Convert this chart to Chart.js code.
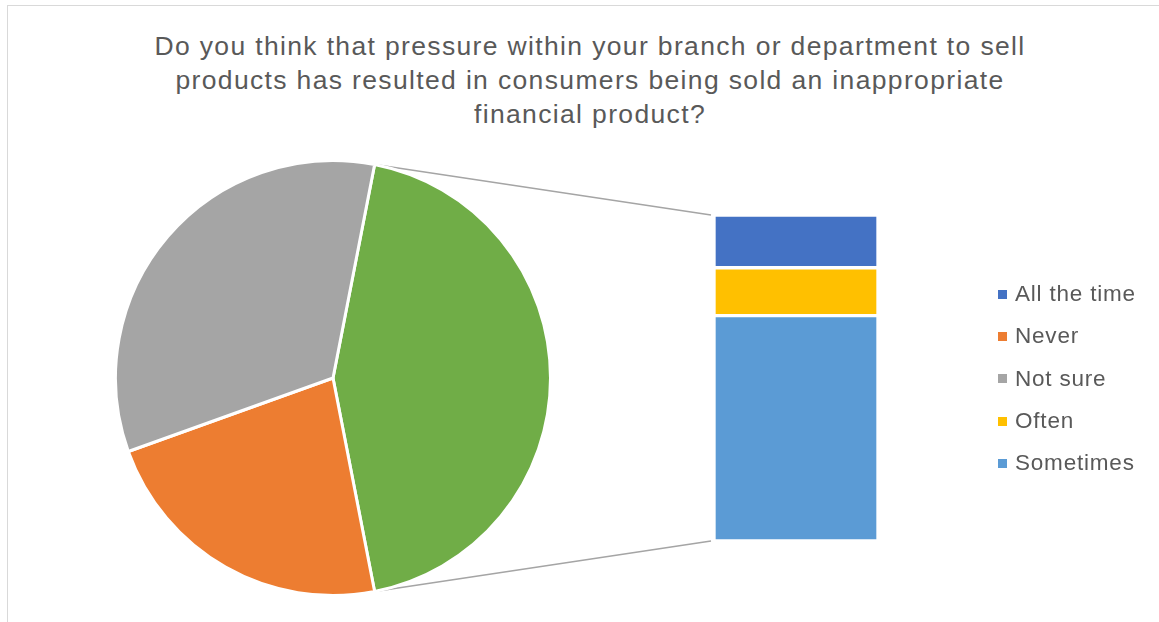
<!DOCTYPE html>
<html lang="en">
<head>
  <meta charset="UTF-8" />
  <title>Sales pressure survey</title>
  <script src="https://cdn.jsdelivr.net/npm/chart.js"></script>
  <style>
    body {
      margin: 0; padding: 0; background: #fff;
      font-family: "Liberation Sans", Arial, sans-serif;
      color: #595959;
      overflow: hidden;
    }
    .frame {
      position: relative;
      width: 1159px; height: 622px;
      overflow: hidden;
    }
    .frame-border {
      position: absolute;
      left: 7px; top: 5px;
      width: 1200px; height: 700px;
      border: 1px solid #d9d9d9;
    }
    .title {
      position: absolute;
      left: 4px; top: 29px;
      width: 1172px;
      text-align: center;
      font-size: 26.5px;
      letter-spacing: 1.35px;
      line-height: 34px;
    }
    #mainChart { position: absolute; left: 0; top: 0; }
    #pieChart { position: absolute; left: 114px; top: 159px; }
    .legend {
      position: absolute;
      left: 998px; top: 273px;
      list-style: none; margin: 0; padding: 0;
      font-size: 22.5px;
      letter-spacing: 0.8px;
    }
    .legend li {
      height: 42.3px; line-height: 32px;
      display: flex; align-items: center;
    }
    .legend .box {
      display: inline-block;
      width: 9px; height: 9px;
      margin-right: 8px;
    }
  </style>
</head>
<body>
<div class="frame">
  <div class="frame-border"></div>
  <div class="title">Do you think that pressure within your branch or department to sell<br>products has resulted in consumers being sold an inappropriate<br>financial product?</div>
  <canvas id="mainChart" width="1159" height="622"></canvas>
  <canvas id="pieChart" width="438" height="438"></canvas>
  <ul class="legend" id="legend"></ul>
</div>

<script>
  // answers and number of respondents
  const answers = ['All the time', 'Never', 'Not sure', 'Often', 'Sometimes'];
  const counts = [11, 35, 52, 10, 47];
  const colours = ['#4472C4', '#ED7D31', '#A5A5A5', '#FFC000', '#5B9BD5'];

  // answers split out into the stacked bar (bottom to top)
  const barAnswers = ['Sometimes', 'Often', 'All the time'];
  const otherColour = '#70AD47';

  const countOf = name => counts[answers.indexOf(name)];
  const colourOf = name => colours[answers.indexOf(name)];

  const otherTotal = barAnswers.reduce((s, a) => s + countOf(a), 0);
  const pieLabels = ['Other', 'Never', 'Not sure'];
  const pieValues = [otherTotal, countOf('Never'), countOf('Not sure')];
  const pieColours = [otherColour, colourOf('Never'), colourOf('Not sure')];
  const grandTotal = pieValues.reduce((s, v) => s + v, 0);

  // centre the "Other" slice on the right-hand side
  const rotation = 90 - (otherTotal / grandTotal) * 180;

  const pieChart = new Chart(document.getElementById('pieChart'), {
    type: 'pie',
    data: {
      labels: pieLabels,
      datasets: [{
        data: pieValues,
        backgroundColor: pieColours,
        borderColor: '#ffffff',
        borderWidth: 3
      }]
    },
    options: {
      responsive: false,
      animation: false,
      rotation: rotation,
      plugins: { legend: { display: false }, tooltip: { enabled: false } }
    }
  });

  // grey lines from the "Other" slice to the bar
  const connectors = {
    id: 'connectors',
    beforeDatasetsDraw(chart) {
      const arc = pieChart.getDatasetMeta(0).data[0];
      const pieCanvas = pieChart.canvas;
      const ox = pieCanvas.offsetLeft, oy = pieCanvas.offsetTop;
      const r = arc.outerRadius;
      const topBar = chart.getDatasetMeta(chart.data.datasets.length - 1).data[0];
      const bottomBar = chart.getDatasetMeta(0).data[0];
      const left = topBar.x - topBar.width / 2 - 3;
      const ctx = chart.ctx;
      ctx.save();
      ctx.strokeStyle = '#A5A5A5';
      ctx.lineWidth = 1.5;
      ctx.beginPath();
      ctx.moveTo(ox + arc.x + r * Math.cos(arc.startAngle), oy + arc.y + r * Math.sin(arc.startAngle));
      ctx.lineTo(left, topBar.y);
      ctx.moveTo(ox + arc.x + r * Math.cos(arc.endAngle), oy + arc.y + r * Math.sin(arc.endAngle));
      ctx.lineTo(left, bottomBar.base);
      ctx.stroke();
      ctx.restore();
    }
  };

  new Chart(document.getElementById('mainChart'), {
    type: 'bar',
    data: {
      labels: ['Other'],
      datasets: barAnswers.map(a => ({
        label: a,
        data: [countOf(a)],
        backgroundColor: colourOf(a),
        borderColor: '#ffffff',
        borderWidth: 2,
        borderSkipped: false,
        barPercentage: 1,
        categoryPercentage: 1
      }))
    },
    options: {
      responsive: false,
      animation: false,
      layout: { padding: { left: 714, right: 281, top: 215, bottom: 81 } },
      scales: {
        x: { stacked: true, display: false },
        y: { stacked: true, display: false, min: 0, max: otherTotal }
      },
      plugins: { legend: { display: false }, tooltip: { enabled: false } }
    },
    plugins: [connectors]
  });

  const legend = document.getElementById('legend');
  answers.forEach((a, i) => {
    const li = document.createElement('li');
    li.innerHTML = '<span class="box" style="background:' + colours[i] + '"></span>' + a;
    legend.appendChild(li);
  });
</script>
</body>
</html>
